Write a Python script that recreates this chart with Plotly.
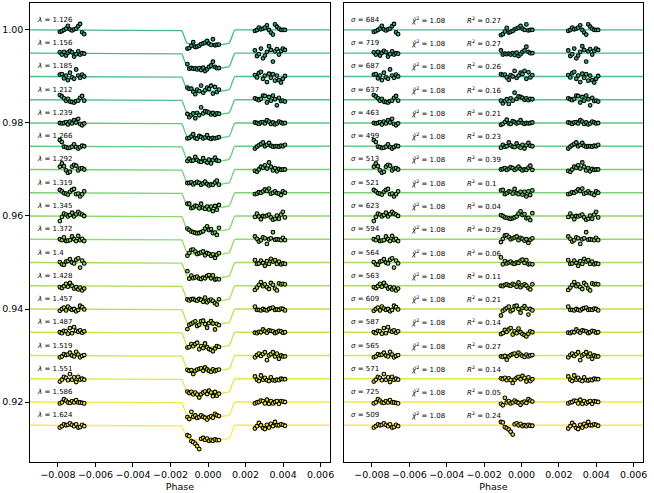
import numpy as np
import plotly.graph_objects as go
from plotly.colors import sample_colorscale

WAVELENGTHS = [1.126, 1.156, 1.185, 1.212, 1.239, 1.266, 1.292, 1.319, 1.345,
               1.372, 1.4, 1.428, 1.457, 1.487, 1.519, 1.551, 1.586, 1.624]
OFFSETS = [1.000, 0.995, 0.990, 0.985, 0.980, 0.975, 0.970, 0.965, 0.960,
           0.955, 0.950, 0.945, 0.940, 0.935, 0.930, 0.925, 0.920, 0.915]
SIGMA_PPM = [684, 719, 687, 637, 463, 499, 513, 521, 623, 594, 564, 563, 609, 587, 565, 571, 725, 509]
CHI2 = [1.08] * 18
R2 = [0.27, 0.27, 0.26, 0.16, 0.21, 0.23, 0.39, 0.1, 0.04, 0.29, 0.06, 0.11, 0.21, 0.14, 0.27, 0.14, 0.05, 0.24]
DEPTH = [0.00322, 0.00325, 0.00320, 0.00318, 0.00324, 0.00321, 0.00323, 0.00319, 0.00322,
         0.00326, 0.00330, 0.00328, 0.00324, 0.00322, 0.00320, 0.00318, 0.00319, 0.00316]

MODEL_PHASE = [-0.0095, -0.00145, -0.00140, -0.00135, -0.00130, -0.00125, -0.00120, -0.00115,
               -0.00110, -0.00100, -0.00080, -0.00050, 0.0, 0.00050, 0.00080, 0.00100, 0.00110,
               0.00115, 0.00120, 0.00125, 0.00130, 0.00135, 0.00140, 0.00145, 0.0065]
MODEL_SHAPE = [0, 0, 0.04, 0.17, 0.35, 0.55, 0.72, 0.84, 0.90, 0.93, 0.96, 0.985, 1.0,
               0.985, 0.96, 0.93, 0.90, 0.84, 0.72, 0.55, 0.35, 0.17, 0.04, 0, 0]

PHASE_A = [-0.00790, -0.00779, -0.00768, -0.00757, -0.00747, -0.00736, -0.00725, -0.00714,
           -0.00703, -0.00692, -0.00682, -0.00671, -0.00660]
PHASE_B = [-0.00110, -0.00100, -0.00089, -0.00079, -0.00068, -0.00058, -0.00047, -0.00037,
           -0.00026, -0.00016, -0.00005, 0.00005, 0.00016, 0.00026, 0.00037, 0.00047, 0.00058]
PHASE_C = [0.00250, 0.00261, 0.00271, 0.00282, 0.00293, 0.00303, 0.00314, 0.00325, 0.00335,
           0.00346, 0.00357, 0.00367, 0.00378, 0.00389, 0.00399, 0.00410]

# residuals in ppm, one list per row and per orbit
RES_A = [
    [-400, -250, 0, 300, 900, 150, -100, 150, 300, 800, 1300, -500, -900],
    [200, -300, 300, -500, 100, 500, 200, -700, -200, 400, -300, 0, -100],
    [400, 500, -400, 200, -800, 800, -200, -500, 1500, 200, -300, 400, 0],
    [1000, 700, 300, -200, 200, -400, -500, -600, -300, -200, 400, 800, -200],
    [0, -100, 0, 200, -300, 300, -100, 600, 100, 900, -200, -500, -100],
    [1300, 900, -100, -200, -400, -300, -100, 400, -200, -500, -200, 100, 0],
    [600, 1300, 700, -200, -700, -500, 600, 1000, 800, -200, 200, 300, 0],
    [600, 300, -100, -200, -400, 200, 600, 800, -300, -200, -800, -300, 300],
    [-1100, -200, 500, 300, -100, 200, 700, -100, 400, 900, 500, 300, 0],
    [0, -200, 400, -400, -300, -200, 600, 0, -400, 700, -200, 100, -400],
    [100, -400, -500, 200, 300, 700, 0, -200, 600, 900, -1100, 400, -200],
    [-300, -500, -100, 400, -200, 600, 0, -600, -300, -800, -400, -1000, -600],
    [-400, 0, 300, -300, 500, 100, -200, 0, -500, -200, 700, 400, -100],
    [0, -200, 300, 200, -300, 900, -200, 1100, 300, 100, 400, -100, 200],
    [-400, -200, 300, 100, 200, 600, 0, -200, 800, 200, -400, -100, 100],
    [-600, -200, 400, 200, -300, 1000, -200, 300, -700, 400, -200, 0, -200],
    [-300, -100, 600, 300, -100, -200, 200, -100, 400, -100, -100, -200, -300],
    [-500, -200, 200, 0, 100, 400, 100, -200, 200, -500, -400, 100, -200],
]
RES_B = [
    [-1100, -900, -350, 450, -550, -400, -200, 150, 300, 500, 850, 300, 0, 1200, -100, 0, 0],
    [600, -300, -100, -200, -100, -300, 0, -400, 100, -600, -200, 300, 600, 1400, 300, 0, 0],
    [500, 300, 400, -200, -700, 300, 0, 1200, -300, 200, 800, 500, 1200, -500, 900, -200, 300],
    [-200, -800, -300, 100, -900, 300, -200, 1500, 200, 700, 600, 400, 0, 300, -100, 200, 100],
    [-400, -200, 200, 700, -100, -200, 400, 200, -100, 100, 600, 0, -200, 0, -100, 0, 100],
    [-300, 300, -100, 0, 800, 200, -100, -200, 600, 0, -300, 300, -500, 200, 700, 100, 0],
    [0, 100, 300, -100, 200, 500, 300, -100, 200, 600, 100, -200, 0, -100, 400, 800, -100],
    [500, 600, -300, -100, 300, 200, -200, 800, -100, -300, 200, -400, 200, -800, 300, -500, 500],
    [200, 0, -300, -400, -500, -600, -500, -300, -100, 500, 1000, 200, 400, -500, -400, -900, 600],
    [-600, 100, 800, 900, 500, 0, 200, 400, 600, -200, 300, 100, -300, 0, -800, -100, 200],
    [1100, -400, 300, -200, 0, 200, -200, -300, 0, -100, 400, 600, -100, 500, -400, -300, -400],
    [0, -100, 200, 300, 100, 0, 400, 200, -200, 700, -300, 100, 300, 0, -500, -800, 300],
    [-1400, -400, -100, 200, 500, -500, -200, 600, 700, 0, -800, 200, 600, 100, -1200, 0, -300],
    [-400, -200, 500, 100, 600, 900, -500, 200, -200, 800, 0, -400, -600, -900, -300, 200, 0],
    [-200, -300, -100, -900, -200, 100, 300, 400, -100, 600, 200, -100, -300, 200, -200, 0, 100],
    [100, -100, 200, -300, 100, -300, -900, -200, 200, 400, -100, 600, 200, -600, 300, -500, -100],
    [-400, -700, 900, -100, 200, -300, -100, 300, 0, -200, -600, -100, 100, -200, 600, 300, 100],
    [700, 600, -400, -600, -900, -1400, -2000, 200, 400, 0, 300, -200, 0, -200, 100, -100, -100],
]
RES_C = [
    [-200, 0, 500, 150, 300, 500, 1000, 0, -550, -1000, 1200, 700, 300, 0, 0, 0],
    [600, -600, -200, 1000, -1100, -500, 300, 1500, 700, -1800, 400, 900, -300, 500, 1000, 700],
    [300, -200, 700, 1000, -500, 200, -1200, 600, -300, 500, -900, 200, -800, -1300, -500, 100],
    [300, 100, -100, 200, 900, 800, -600, 600, -200, 900, 100, -1200, 400, -300, -200, -400],
    [100, 0, -200, 100, 200, -100, 600, 300, -200, 100, -300, -100, 300, 100, -100, 0],
    [-500, -100, 200, 500, 800, 0, 300, 700, 100, -100, 0, 0, -100, 100, 0, 300],
    [-300, -500, 0, 600, 400, 900, 200, 1500, 600, -200, 300, -400, 100, -100, 0, 0],
    [-300, -200, 100, 0, 300, 700, 400, 900, -200, 0, 300, -100, -200, -500, 300, 0],
    [-200, 500, -100, -700, 0, -100, 100, 300, -300, -800, -600, 100, -600, 300, 900, -300],
    [600, 100, -500, -200, 400, 200, -1000, 0, 200, 1500, -100, 0, -100, -200, 300, -200],
    [500, -300, -200, 400, -100, -700, 300, -300, 800, 200, 500, -300, 200, -400, -200, -300],
    [-900, -400, 200, 800, -100, 300, -300, -700, 600, 200, -600, -1000, 500, 300, 400, 300],
    [500, -200, -200, -300, 0, -200, -300, 0, 200, 300, -200, -100, -200, 100, 0, -300],
    [-100, -200, 100, 0, 600, 200, -100, 400, 300, 200, -200, 0, 300, 200, -100, 0],
    [-400, 100, 400, -100, 300, 700, -1000, 0, 300, 700, -200, 400, -700, 0, -200, -200],
    [500, -200, -500, 700, -200, 200, -300, -500, 300, -300, -400, -200, -300, 0, -100, -100],
    [-300, -100, 0, 300, 200, -300, 500, -400, 200, -300, 0, 200, -400, 200, 100, 0],
    [-700, -200, 500, 0, -600, -800, 100, -500, 300, -200, 700, 0, 0, 200, 100, -100],
]

XRANGE = [-0.0095, 0.0065]
YRANGE = [0.9071, 1.0058]
FONT = "DejaVu Sans"

n = len(WAVELENGTHS)
colors = sample_colorscale("Viridis", [0.6 + 0.4 * i / (n - 1) for i in range(n)])

fig = go.Figure()
pts_phase = np.array(PHASE_A + PHASE_B + PHASE_C)
mph = np.array(MODEL_PHASE)
msh = np.array(MODEL_SHAPE)
annotations = []
mk = lambda c: dict(color=c, size=3.7, line=dict(color="black", width=1.1))
for i in range(n):
    col = colors[i]
    off = OFFSETS[i]
    res = np.array(RES_A[i] + RES_B[i] + RES_C[i]) * 1e-6
    model_line = off - DEPTH[i] * msh
    model_pts = off - DEPTH[i] * np.interp(pts_phase, mph, msh)
    fig.add_trace(go.Scatter(x=mph, y=model_line, mode="lines", opacity=0.85,
                             line=dict(color=col, width=1.3), xaxis="x", yaxis="y",
                             showlegend=False, hoverinfo="skip"))
    fig.add_trace(go.Scatter(x=pts_phase, y=model_pts + res, mode="markers", marker=mk(col),
                             xaxis="x", yaxis="y", showlegend=False))
    fig.add_trace(go.Scatter(x=XRANGE, y=[off, off], mode="lines", opacity=0.85,
                             line=dict(color=col, width=1.3), xaxis="x2", yaxis="y2",
                             showlegend=False, hoverinfo="skip"))
    fig.add_trace(go.Scatter(x=pts_phase, y=off + res, mode="markers", marker=mk(col),
                             xaxis="x2", yaxis="y2", showlegend=False))
    ty = off + 0.00215
    annotations.append(dict(x=-0.0092, y=ty, xref="x", yref="y", xanchor="left", yanchor="middle",
                            text=f"<i>λ</i> = {WAVELENGTHS[i]}", showarrow=False,
                            font=dict(family=FONT, size=7, color="black")))
    annotations.append(dict(x=-0.0092, y=ty, xref="x2", yref="y2", xanchor="left", yanchor="middle",
                            text=f"<i>σ</i> = {SIGMA_PPM[i]}", showarrow=False,
                            font=dict(family=FONT, size=7, color="black")))
    annotations.append(dict(x=-0.0060, y=ty, xref="x2", yref="y2", xanchor="left", yanchor="middle",
                            text=f"<i>χ̃</i><sup>2</sup> = {CHI2[i]}", showarrow=False,
                            font=dict(family=FONT, size=7, color="black")))
    annotations.append(dict(x=-0.0030, y=ty, xref="x2", yref="y2", xanchor="left", yanchor="middle",
                            text=f"<i>R</i><sup>2</sup> = {R2[i]}", showarrow=False,
                            font=dict(family=FONT, size=7, color="black")))

W, H = 654, 493
axcommon = dict(range=XRANGE, showgrid=False, zeroline=False, showline=True, linecolor="black",
                linewidth=1, mirror=True, ticks="outside", ticklen=3.5, tickwidth=0.8,
                tickcolor="black", tickfont=dict(family=FONT, size=9.5, color="black"),
                tickvals=[-0.008, -0.006, -0.004, -0.002, 0.0, 0.002, 0.004, 0.006],
                tickformat=".3f",
                title=dict(text="Phase", font=dict(family=FONT, size=9.5, color="black"), standoff=4))
yd = [(H - 462) / H, (H - 3) / H]
fig.update_layout(
    width=W, height=H, margin=dict(l=0, r=0, t=0, b=0),
    paper_bgcolor="white", plot_bgcolor="white",
    xaxis=dict(domain=[30 / W, 332 / W], anchor="y", **axcommon),
    yaxis=dict(domain=yd, range=YRANGE, anchor="x", showgrid=False, zeroline=False, showline=True,
               linecolor="black", linewidth=1, mirror=True, ticks="outside", ticklen=3.5,
               tickwidth=0.8, tickcolor="black", tickvals=[0.92, 0.94, 0.96, 0.98, 1.00],
               tickformat=".2f", tickfont=dict(family=FONT, size=9.5, color="black")),
    xaxis2=dict(domain=[346 / W, 647 / W], anchor="y2", **axcommon),
    yaxis2=dict(domain=yd, range=YRANGE, anchor="x2", showgrid=False, zeroline=False, showline=True,
                linecolor="black", linewidth=1, mirror=True, ticks="", showticklabels=False),
    annotations=annotations,
    showlegend=False,
)
fig.write_html("out.html", config={"displayModeBar": False},
               post_script="document.body.style.margin='0px';document.body.style.padding='0px';")
